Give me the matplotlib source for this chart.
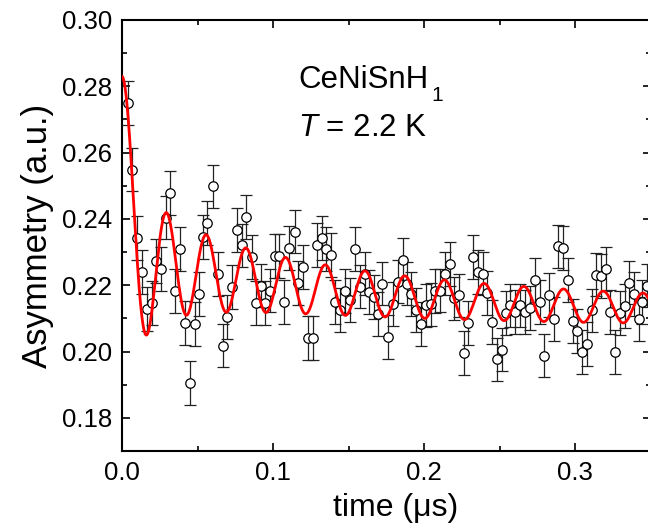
import numpy as np
import matplotlib
matplotlib.use("Agg")
import matplotlib.pyplot as plt
from matplotlib.ticker import MultipleLocator, FormatStrFormatter

plt.rcParams.update({'font.family': ['Liberation Sans', 'DejaVu Sans'],
                     'mathtext.fontset': 'custom',
                     'mathtext.rm': 'Liberation Sans',
                     'mathtext.it': 'Liberation Sans:italic'})

# muSR data: time (us), asymmetry
t_us = [0.0042, 0.0068, 0.0101, 0.0132, 0.0168, 0.0197, 0.0223, 0.0260, 0.0294, 0.0320,
        0.0353, 0.0386, 0.0415, 0.0448, 0.0481, 0.0508, 0.0536, 0.0565, 0.0605, 0.0638,
        0.0667, 0.0698, 0.0731, 0.0759, 0.0793, 0.0823, 0.0859, 0.0885, 0.0918, 0.0947,
        0.0980, 0.1013, 0.1040, 0.1073, 0.1106, 0.1143, 0.1166, 0.1199, 0.1230, 0.1263,
        0.1291, 0.1325, 0.1353, 0.1386, 0.1413, 0.1446, 0.1479, 0.1512, 0.1545, 0.1574,
        0.1607, 0.1638, 0.1667, 0.1695, 0.1722, 0.1764, 0.1797, 0.1830, 0.1859, 0.1885,
        0.1914, 0.1947, 0.1980, 0.2011, 0.2044, 0.2073, 0.2106, 0.2139, 0.2172, 0.2201,
        0.2234, 0.2263, 0.2293, 0.2327, 0.2360, 0.2389, 0.2417, 0.2450, 0.2483, 0.2517,
        0.2543, 0.2572, 0.2605, 0.2638, 0.2671, 0.2700, 0.2733, 0.2766, 0.2793, 0.2826,
        0.2859, 0.2885, 0.2923, 0.2952, 0.2985, 0.3015, 0.3046, 0.3077, 0.3111, 0.3139,
        0.3170, 0.3203, 0.3232, 0.3265, 0.3298, 0.3331, 0.3360, 0.3391, 0.3424, 0.3446,
        0.3475]
asym = [0.2750, 0.2549, 0.2342, 0.2240, 0.2129, 0.2146, 0.2273, 0.2250, 0.2404, 0.2479,
        0.2182, 0.2310, 0.2087, 0.1904, 0.2082, 0.2174, 0.2345, 0.2388, 0.2498, 0.2233,
        0.2018, 0.2104, 0.2194, 0.2366, 0.2320, 0.2406, 0.2285, 0.2146, 0.2199, 0.2146,
        0.2184, 0.2288, 0.2288, 0.2149, 0.2312, 0.2362, 0.2206, 0.2255, 0.2041, 0.2041,
        0.2322, 0.2343, 0.2310, 0.2292, 0.2149, 0.2126, 0.2182, 0.2156, 0.2310, 0.2196,
        0.2235, 0.2179, 0.2164, 0.2114, 0.2205, 0.2043, 0.2144, 0.2211, 0.2275, 0.2205,
        0.2174, 0.2126, 0.2084, 0.2139, 0.2142, 0.2182, 0.2184, 0.2235, 0.2265, 0.2160,
        0.2169, 0.1995, 0.2086, 0.2285, 0.2240, 0.2235, 0.2176, 0.2089, 0.1976, 0.2006,
        0.2116, 0.2139, 0.2119, 0.2139, 0.2119, 0.2132, 0.2215, 0.2149, 0.1988, 0.2171,
        0.2099, 0.2317, 0.2313, 0.2215, 0.2092, 0.2063, 0.1998, 0.2023, 0.2124, 0.2232,
        0.2228, 0.2250, 0.2119, 0.1998, 0.2117, 0.2137, 0.2208, 0.2174, 0.2097, 0.2149,
        0.2199]
ERR = 0.0066

# fit: background + slow tail + Bessel J0 oscillation (incommensurate order)
FIT_BG = 0.211
FIT_TAIL, FIT_LAM_L = 0.0175, 6.15
FIT_OSC, FIT_LAM_T = 0.0545, 0.15
FIT_OMEGA = 239.0   # rad/us

def j0(x):
    th = np.linspace(0, np.pi, 2001)
    return np.trapezoid(np.cos(np.outer(x, np.sin(th))), th, axis=1) / np.pi

tf = np.linspace(0, 0.35, 1200)
fit = FIT_BG + FIT_TAIL*np.exp(-FIT_LAM_L*tf) + FIT_OSC*j0(FIT_OMEGA*tf)*np.exp(-FIT_LAM_T*tf)

fig = plt.figure(figsize=(6.48, 5.26), dpi=100)
ax = fig.add_axes([0.1883, 0.1426, 1.0039 - 0.1883, 0.962 - 0.1426])

ax.errorbar(t_us, asym, yerr=ERR, fmt='o', ms=6.8, mfc='white', mec='black', mew=0.9,
            ecolor='#222', elinewidth=0.9, capsize=4, capthick=0.9, zorder=3)
ax.plot(tf, fit, color='red', lw=2.0, zorder=4)

ax.set_xlim(0, 0.35)
ax.set_ylim(0.17, 0.30)
ax.xaxis.set_major_locator(MultipleLocator(0.1))
ax.xaxis.set_minor_locator(MultipleLocator(0.05))
ax.yaxis.set_major_locator(MultipleLocator(0.02))
ax.yaxis.set_minor_locator(MultipleLocator(0.01))
ax.xaxis.set_major_formatter(FormatStrFormatter('%.1f'))
ax.yaxis.set_major_formatter(FormatStrFormatter('%.2f'))
ax.tick_params(which='both', direction='in', top=True, right=True, width=1.2, labelsize=18.5)
ax.tick_params(which='major', length=6, pad=7)
ax.tick_params(which='minor', length=3.5)
for s in ax.spines.values():
    s.set_linewidth(1.5)

ax.set_xlabel('time (\u03bcs)', fontsize=23)
ax.xaxis.set_label_coords(0.518, -0.098)
ax.set_ylabel('Asymmetry (a.u.)', fontsize=25, labelpad=6)

ax.text(0.1166, 0.2819, 'CeNiSnH', fontsize=22.5, ha='left', va='center')
ax.annotate('1', (0.1166, 0.2819), xytext=(96, -11), textcoords='offset points',
            fontsize=15, ha='left', va='center')
ax.text(0.1166, 0.2674, '$T$ = 2.2 K', fontsize=22.5, ha='left', va='center')

fig.savefig('out.png', dpi=100)
